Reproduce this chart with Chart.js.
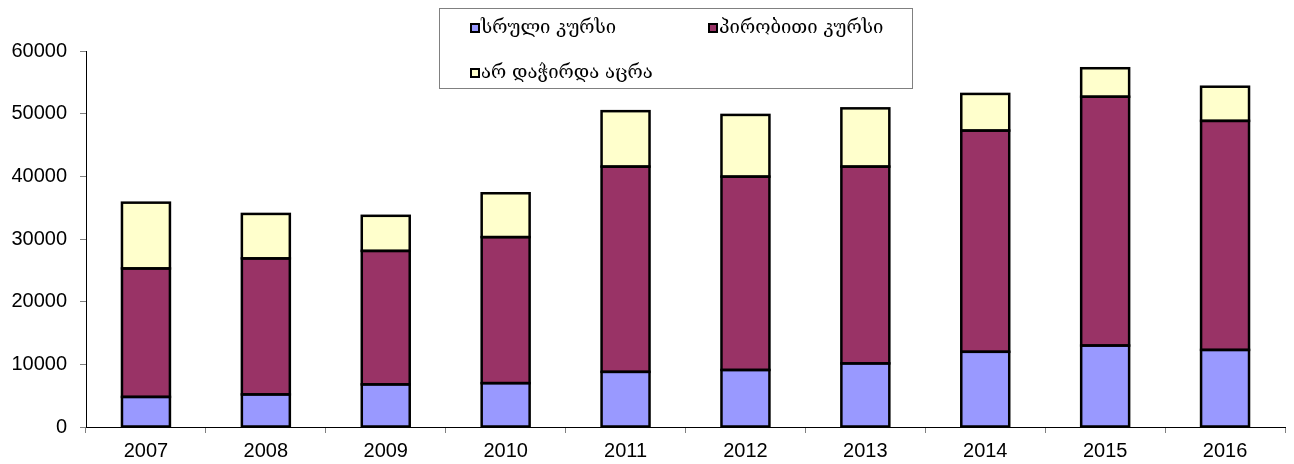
<!DOCTYPE html>
<html>
<head>
<meta charset="utf-8">
<script src="https://cdn.jsdelivr.net/npm/chart.js@4/dist/chart.umd.min.js"></script>
<style>
  html, body { margin: 0; padding: 0; background: #fff; }
  #wrap { width: 1294px; height: 464px; }
</style>
</head>
<body>
<div id="wrap"><canvas id="c" width="1294" height="464"></canvas></div>
<script>
const categories = ['2007', '2008', '2009', '2010', '2011', '2012', '2013', '2014', '2015', '2016'];
const seriesNames = ['სრული კურსი', 'პირობითი კურსი', 'არ დაჭირდა აცრა'];
const fullCourse = [4800, 5200, 6800, 7000, 8800, 9100, 10150, 12000, 13000, 12300];
const conditionalCourse = [20500, 21700, 21300, 23300, 32750, 30850, 31400, 35300, 39700, 36550];
const notNeeded = [10500, 7100, 5600, 7000, 8850, 9850, 9300, 5850, 4550, 5450];
const yTicks = [0, 10000, 20000, 30000, 40000, 50000, 60000];

const colors = ['#9999FF', '#993366', '#FFFFCC'];
const seriesValues = [fullCourse, conditionalCourse, notNeeded];

// Outline each bar segment using the library's element geometry
const outlinePlugin = {
  id: 'barOutline',
  afterDatasetsDraw(chart) {
    const ctx = chart.ctx;
    ctx.save();
    ctx.strokeStyle = '#000';
    ctx.lineWidth = 2.5;
    ctx.lineJoin = 'miter';
    chart.data.datasets.forEach((ds, i) => {
      const meta = chart.getDatasetMeta(i);
      meta.data.forEach(bar => {
        const p = bar.getProps(['x', 'y', 'base', 'width'], true);
        const left = p.x - p.width / 2;
        const top = Math.min(p.y, p.base);
        const h = Math.abs(p.base - p.y);
        ctx.strokeRect(left, top, p.width, h);
      });
    });
    ctx.restore();
  }
};

const legendPlugin = {
  id: 'boxLegend',
  afterDraw(chart) {
    const ctx = chart.ctx;
    ctx.save();
    ctx.strokeStyle = '#808080';
    ctx.lineWidth = 1;
    ctx.strokeRect(439.5, 8.5, 473, 80);
    const pos = [[470, 28], [708, 28], [470, 73]];
    chart.data.datasets.forEach((ds, i) => {
      const [x, y] = pos[i];
      ctx.fillStyle = '#000';
      ctx.fillRect(x, y - 5, 10, 10);
      ctx.fillStyle = ds.backgroundColor;
      ctx.fillRect(x + 2, y - 3, 6, 6);
      ctx.fillStyle = '#000';
      ctx.font = '18.5px "DejaVu Serif"';
      ctx.textBaseline = 'middle';
      ctx.textAlign = 'left';
      ctx.fillText(ds.label, x + 11, y);
    });
    ctx.restore();
  }
};

new Chart(document.getElementById('c'), {
  type: 'bar',
  data: {
    labels: categories,
    datasets: seriesNames.map((name, i) => ({
      label: name,
      data: seriesValues[i],
      backgroundColor: colors[i],
      borderWidth: 0,
      inflateAmount: 0,
      categoryPercentage: 1,
      barPercentage: 0.4
    }))
  },
  options: {
    responsive: false,
    animation: false,
    devicePixelRatio: 1,
    layout: { padding: { top: 51, right: 9, left: 0, bottom: 0 } },
    plugins: { legend: { display: false }, tooltip: { enabled: false }, title: { display: false } },
    scales: {
      x: {
        stacked: true,
        afterFit(scale) { scale.height = 37; },
        grid: { display: true, drawOnChartArea: false, tickLength: 6, tickColor: '#808080', offset: true },
        border: { color: '#000', width: 1 },
        ticks: { color: '#000', font: { family: '"Liberation Sans", Arial', size: 20 }, padding: 6, maxRotation: 0 }
      },
      y: {
        stacked: true,
        min: 0,
        max: 60000,
        afterFit(scale) { scale.width = 86; },
        afterBuildTicks(scale) { scale.ticks = yTicks.map(v => ({ value: v })); },
        grid: { display: true, drawOnChartArea: false, tickLength: 6, tickColor: '#808080' },
        border: { color: '#000', width: 1 },
        ticks: { color: '#000', font: { family: '"Liberation Sans", Arial', size: 20 }, padding: 13,
                 callback: (v) => String(v) }
      }
    }
  },
  plugins: [outlinePlugin, legendPlugin]
});
</script>
</body>
</html>
